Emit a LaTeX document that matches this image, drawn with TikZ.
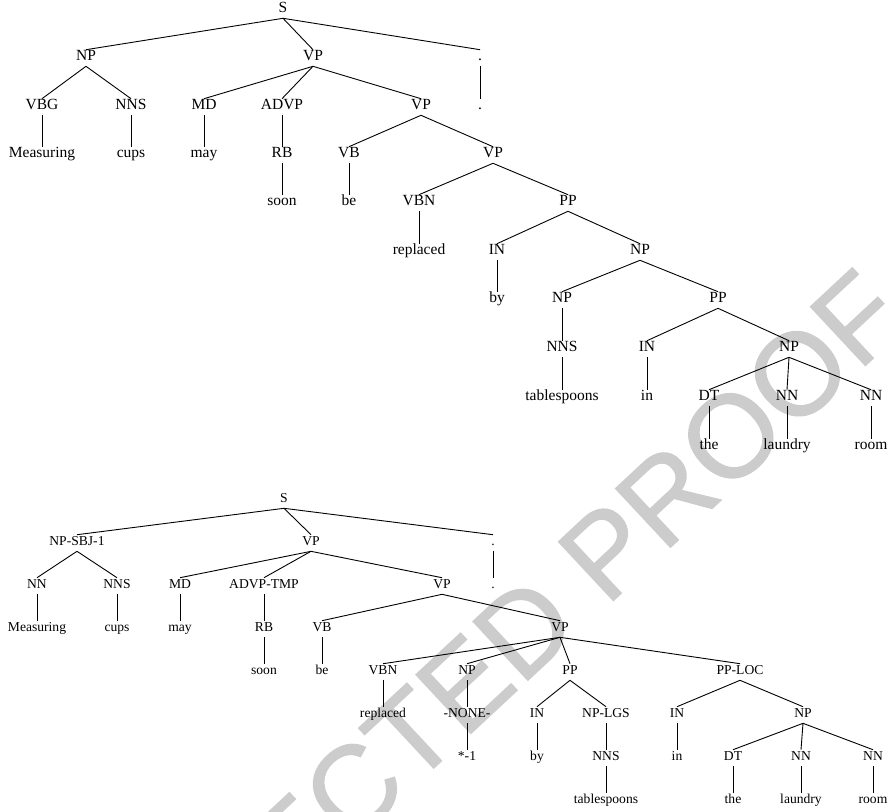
\documentclass[tikz,border=0pt]{standalone}
\usepackage{fontspec}
\setmainfont{Liberation Serif}
\newfontfamily\markfont[FakeBold=1]{Liberation Sans}
\begin{document}
\begin{tikzpicture}[x=1pt,y=-1pt,
  lbl/.style={inner xsep=1pt,inner ysep=3.6pt,text height=0.68em,text depth=0.22em},
  big/.style={lbl,font=\rmfamily\fontsize{15.5}{17}\selectfont},
  small/.style={lbl,font=\rmfamily\fontsize{13.6}{15}\selectfont},
  br/.style={line width=0.9pt,black},
  stamp/.style={text=black!20,inner sep=0pt,font=\markfont\fontsize{117}{120}\selectfont}]
\useasboundingbox (0,0) rectangle (893,811);

% watermark, running up to the right
\node[stamp,rotate=43,anchor=base west] (mark) at (40.6,1134.7) {CORRECTED PROOF};

% ---------- first tree ----------
\begin{scope}[every node/.style={big}]
\node (aS) at (283,10) {S};
\node (aNP) at (86,58) {NP};
\node (aVP) at (313,58) {VP};
\node (aPu) at (480,58) {.};
\node (aVBG) at (42,107) {VBG};
\node (aNNS) at (131,107) {NNS};
\node (aMD) at (204,107) {MD};
\node (aADVP) at (282,107) {ADVP};
\node (aVPb) at (421,107) {VP};
\node (aPub) at (480,107) {.};
\node (aW1) at (42,155) {Measuring};
\node (aW2) at (131,155) {cups};
\node (aW3) at (204,155) {may};
\node (aRB) at (282,155) {RB};
\node (aVB) at (349,155) {VB};
\node (aVPc) at (493,155) {VP};
\node (aW4) at (282,203) {soon};
\node (aW5) at (349,203) {be};
\node (aVBN) at (419,203) {VBN};
\node (aPP) at (568,203) {PP};
\node (aW6) at (419,252) {replaced};
\node (aIN) at (497,252) {IN};
\node (aNPb) at (640,252) {NP};
\node (aW7) at (497,300) {by};
\node (aNPc) at (562,300) {NP};
\node (aPPb) at (718,300) {PP};
\node (aNNSb) at (562,349) {NNS};
\node (aINb) at (647,349) {IN};
\node (aNPd) at (789,349) {NP};
\node (aW8) at (562,398) {tablespoons};
\node (aW9) at (647,398) {in};
\node (aDT) at (709,398) {DT};
\node (aNNa) at (787,398) {NN};
\node (aNNb) at (871,398) {NN};
\node (aW10) at (709,447) {the};
\node (aW11) at (787,447) {laundry};
\node (aW12) at (871,447) {room};
\end{scope}
\foreach \p/\c in {aS/aNP,aS/aVP,aS/aPu,aNP/aVBG,aNP/aNNS,aVP/aMD,aVP/aADVP,aVP/aVPb,
  aPu/aPub,aVBG/aW1,aNNS/aW2,aMD/aW3,aADVP/aRB,aVPb/aVB,aVPb/aVPc,aRB/aW4,aVB/aW5,
  aVPc/aVBN,aVPc/aPP,aVBN/aW6,aPP/aIN,aPP/aNPb,aIN/aW7,aNPb/aNPc,aNPb/aPPb,
  aNPc/aNNSb,aPPb/aINb,aPPb/aNPd,aNNSb/aW8,aINb/aW9,aNPd/aDT,aNPd/aNNa,aNPd/aNNb,
  aDT/aW10,aNNa/aW11,aNNb/aW12}
  \draw[br] (\p.south) -- (\c.north);

% ---------- second tree ----------
\begin{scope}[every node/.style={small}]
\node (bS) at (284,500) {S};
\node (bNP) at (77,543) {NP-SBJ-1};
\node (bVP) at (311,543) {VP};
\node (bPu) at (493,543) {.};
\node (bNN) at (37,586) {NN};
\node (bNNS) at (117,586) {NNS};
\node (bMD) at (180,586) {MD};
\node (bADVP) at (264,586) {ADVP-TMP};
\node (bVPb) at (442,586) {VP};
\node (bPub) at (493,586) {.};
\node (bW1) at (37,629) {Measuring};
\node (bW2) at (117,629) {cups};
\node (bW3) at (180,629) {may};
\node (bRB) at (264,629) {RB};
\node (bVB) at (322,629) {VB};
\node (bVPc) at (560,629) {VP};
\node (bW4) at (264,672) {soon};
\node (bW5) at (322,672) {be};
\node (bVBN) at (383,672) {VBN};
\node (bNPb) at (467,672) {NP};
\node (bPP) at (570,672) {PP};
\node (bPPL) at (740,672) {PP-LOC};
\node (bW6) at (383,715) {replaced};
\node (bNONE) at (467,715) {-NONE-};
\node (bIN) at (537,715) {IN};
\node (bNPL) at (606,715) {NP-LGS};
\node (bINb) at (677,715) {IN};
\node (bNPc) at (803,715) {NP};
\node (bW7) at (467,758) {*-1};
\node (bW8) at (537,758) {by};
\node (bNNSb) at (606,758) {NNS};
\node (bW9) at (677,758) {in};
\node (bDT) at (733,758) {DT};
\node (bNNa) at (801,758) {NN};
\node (bNNb) at (873,758) {NN};
\node (bW10) at (606,801) {tablespoons};
\node (bW11) at (733,801) {the};
\node (bW12) at (801,801) {laundry};
\node (bW13) at (873,801) {room};
\end{scope}
\foreach \p/\c in {bS/bNP,bS/bVP,bS/bPu,bNP/bNN,bNP/bNNS,bVP/bMD,bVP/bADVP,bVP/bVPb,
  bPu/bPub,bNN/bW1,bNNS/bW2,bMD/bW3,bADVP/bRB,bVPb/bVB,bVPb/bVPc,bRB/bW4,bVB/bW5,
  bVPc/bVBN,bVPc/bNPb,bVPc/bPP,bVPc/bPPL,bVBN/bW6,bNPb/bNONE,bPP/bIN,bPP/bNPL,
  bPPL/bINb,bPPL/bNPc,bNONE/bW7,bIN/bW8,bNPL/bNNSb,bINb/bW9,bNPc/bDT,bNPc/bNNa,
  bNPc/bNNb,bNNSb/bW10,bDT/bW11,bNNa/bW12,bNNb/bW13}
  \draw[br] (\p.south) -- (\c.north);
\end{tikzpicture}
\end{document}
